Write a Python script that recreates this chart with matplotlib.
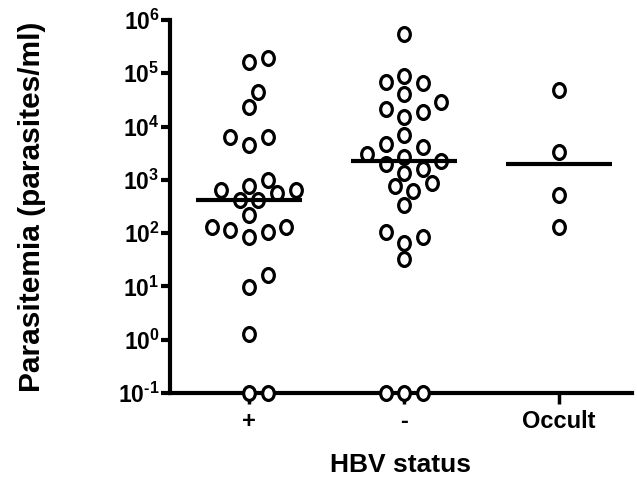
import numpy as np
import matplotlib
matplotlib.use("Agg")
import matplotlib.pyplot as plt
from matplotlib.path import Path
from matplotlib.transforms import Affine2D

plt.rcParams["font.family"] = "Liberation Sans"
plt.rcParams["font.weight"] = "bold"
plt.rcParams["mathtext.fontset"] = "custom"
plt.rcParams["mathtext.rm"] = "Liberation Sans:bold"
plt.rcParams["mathtext.it"] = "Liberation Sans:bold"
plt.rcParams["mathtext.bf"] = "Liberation Sans:bold"

# parasitemia per patient (parasites/ml)
groups = ["+", "-", "Occult"]
hbv_pos = [1.9e5, 1.65e5, 4.4e4, 2.3e4, 6300, 4500, 6450, 990, 643, 555, 765,
           643, 417, 417, 218, 131, 103, 85, 114, 131, 16.3, 9.6, 1.3, 0.1, 0.1]
hbv_neg = [5.5e5, 9.0e4, 6.5e4, 6.8e4, 4.1e4, 2.9e4, 2.1e4, 1.53e4, 1.9e4,
           6850, 4640, 4180, 2250, 3010, 2720, 1950, 1610, 1360, 880, 765, 608,
           332, 106, 66, 85, 32.5, 0.1, 0.1, 0.1]
hbv_occult = [4.9e4, 3370, 518, 131]
yticks = [0.1, 1, 10, 1e2, 1e3, 1e4, 1e5, 1e6]
ytick_labels = [r"$10^{\text{-}1}$", "$10^{0}$", "$10^{1}$", "$10^{2}$", "$10^{3}$",
                "$10^{4}$", "$10^{5}$", "$10^{6}$"]


def swarm(ax, x0, vals, step=9.3, rx=16.0, ry=16.0):
    # spread points sideways (in pixels) so the rings do not overlap
    vals = np.asarray(vals, float)
    yd = ax.transData.transform(np.column_stack([np.full(len(vals), x0), vals]))[:, 1]
    cands = [0] + [s * k for k in range(1, 12) for s in (1, -1)]
    placed = []
    offs = np.zeros(len(vals))
    for i in np.argsort(vals, kind="stable"):
        for c in cands:
            x = c * step
            if all(((x - px) / rx) ** 2 + ((yd[i] - py) / ry) ** 2 >= 1 for px, py in placed):
                break
        placed.append((x, yd[i]))
        offs[i] = x
    x0d = ax.transData.transform([[x0, 1]])[0, 0]
    return ax.transData.inverted().transform(np.column_stack([x0d + offs, yd]))[:, 0]


ring = Affine2D().scale(0.84, 1.0).transform_path(Path.unit_circle())

fig = plt.figure(figsize=(6.37, 4.8), dpi=100)
ax = fig.add_axes([170 / 637, 87 / 480, 462 / 637, 373 / 480])
ax.set_yscale("log")
ax.set_ylim(0.1, 1e6)
ax.set_xlim(-0.51, 2.47)

for i, vals in enumerate([hbv_pos, hbv_neg, hbv_occult]):
    xs = swarm(ax, i, vals)
    ax.plot(xs, vals, linestyle="none", marker=ring, markersize=10,
            markerfacecolor="white", markeredgecolor="black", markeredgewidth=2.3,
            clip_on=False, zorder=3)
    ax.plot([i - 0.34, i + 0.34], [np.median(vals)] * 2, color="black", lw=3,
            solid_capstyle="butt", zorder=4)

ax.set_yticks(yticks)
ax.set_yticklabels(ytick_labels)
ax.minorticks_off()
ax.set_xticks(range(len(groups)))
ax.set_xticklabels(groups)

for s in ["top", "right"]:
    ax.spines[s].set_visible(False)
for s in ["left", "bottom"]:
    ax.spines[s].set_linewidth(3)
ax.tick_params(axis="y", length=6.5, width=3, pad=1, labelsize=16.5)
ax.tick_params(axis="x", length=8, width=2.5, pad=4, labelsize=17)

ax.set_xlabel("HBV status", fontsize=19, fontweight="bold", labelpad=15)
ax.set_ylabel("Parasitemia (parasites/ml)", fontsize=21.5, fontweight="bold", labelpad=52)

fig.savefig("out.png", dpi=100)
